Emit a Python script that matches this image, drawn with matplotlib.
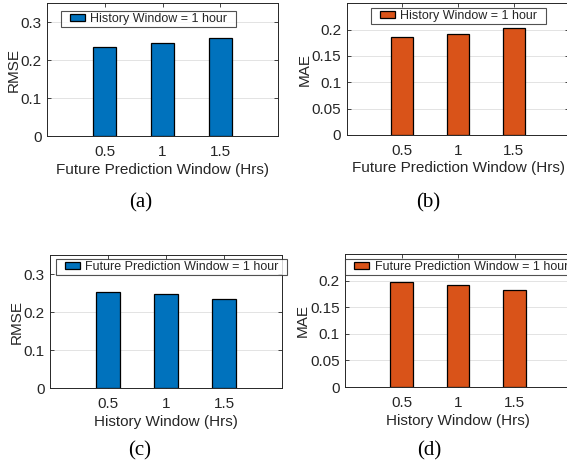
import numpy as np
import matplotlib
matplotlib.use("Agg")
import matplotlib.pyplot as plt
from matplotlib.legend_handler import HandlerPatch
from matplotlib.patches import Rectangle

# data
windows = [0.5, 1, 1.5]
window_labels = ["0.5", "1", "1.5"]
rmse_future = [0.235, 0.246, 0.259]    # (a) history window fixed at 1 h
mae_future = [0.1855, 0.192, 0.203]    # (b)
rmse_history = [0.254, 0.247, 0.234]   # (c) prediction window fixed at 1 h
mae_history = [0.197, 0.1915, 0.1815]  # (d)

rmse_ticks = [0, 0.1, 0.2, 0.3]
rmse_ticklabels = ["0", "0.1", "0.2", "0.3"]
mae_ticks = [0, 0.05, 0.1, 0.15, 0.2]
mae_ticklabels = ["0", "0.05", "0.1", "0.15", "0.2"]

blue = "#0072BD"
orange = "#D95319"
dark = "#262626"

plt.rcParams["font.family"] = ["Liberation Sans", "DejaVu Sans"]

fig = plt.figure(figsize=(5.67, 4.69), dpi=100)


def small_box(legend, orig_handle, xdescent, ydescent, width, height, fontsize):
    # matlab style legend swatch, pushed to the right of the handle slot
    hw = width * 0.68
    hh = height * 0.85
    return Rectangle((-xdescent + width - hw, -ydescent + (height - hh) / 2), hw, hh)


def panel(rect, values, color, ylabel, xlabel, legend_text, ymax, ticks,
          ticklabels, leg_anchor, caption, cap_xy):
    ax = fig.add_axes(rect)
    ax.set_axisbelow(True)
    bars = ax.bar(windows, values, width=0.2, color=color, edgecolor="black",
                  linewidth=0.9)
    ax.set_xlim(0, 2)
    ax.set_ylim(0, ymax)
    ax.set_xticks(windows)
    ax.set_xticklabels(window_labels)
    ax.set_yticks(ticks)
    ax.set_yticklabels(ticklabels)
    ax.yaxis.grid(True, color="#e3e3e3", linewidth=0.7)
    ax.tick_params(direction="in", top=True, right=True, length=3,
                   width=0.6, colors=dark, labelsize=11)
    ax.tick_params(axis="x", pad=6.5)
    ax.tick_params(axis="y", pad=4)
    for s in ax.spines.values():
        s.set_color(dark)
        s.set_linewidth(0.7)
    ax.set_ylabel(ylabel, fontsize=11, color=dark, labelpad=0)
    ax.set_xlabel(xlabel, fontsize=11, color=dark, labelpad=2.5)
    leg = ax.legend([bars.patches[0]], [legend_text + "  "],
                    loc="upper left", bbox_to_anchor=leg_anchor,
                    fontsize=9, frameon=True, fancybox=False,
                    borderpad=0.15, handlelength=1.75, handleheight=0.75,
                    handletextpad=0.45, borderaxespad=0,
                    handler_map={Rectangle: HandlerPatch(patch_func=small_box)})
    leg.get_frame().set_edgecolor(dark)
    leg.get_frame().set_linewidth(0.8)
    for t in leg.get_texts():
        t.set_color(dark)
    fig.text(cap_xy[0] / 567, 1 - cap_xy[1] / 469, caption,
             family=["Liberation Serif", "DejaVu Serif"], fontsize=15,
             ha="center", va="center")
    return ax


panel([0.0829, 0.710, 0.4074, 0.2836], rmse_future, blue, "RMSE",
      "Future Prediction Window (Hrs)", "History Window = 1 hour", 0.35,
      rmse_ticks, rmse_ticklabels, (0.06, 0.94), "(a)", (141, 203))
panel([0.6113, 0.7122, 0.3931, 0.2808], mae_future, orange, "MAE",
      "Future Prediction Window (Hrs)", "History Window = 1 hour", 0.25,
      mae_ticks, mae_ticklabels, (0.109, 0.964), "(b)", (428, 203))
panel([0.0882, 0.1721, 0.4092, 0.2836], rmse_history, blue, "RMSE",
      "History Window (Hrs)", "Future Prediction Window = 1 hour", 0.35,
      rmse_ticks, rmse_ticklabels, (0.025, 0.972), "(c)", (140, 451))
panel([0.609, 0.1748, 0.398, 0.2836], mae_history, orange, "MAE",
      "History Window (Hrs)", "Future Prediction Window = 1 hour", 0.25,
      mae_ticks, mae_ticklabels, (0.0, 0.962), "(d)", (429, 451))

fig.savefig("out.png", dpi=100)
